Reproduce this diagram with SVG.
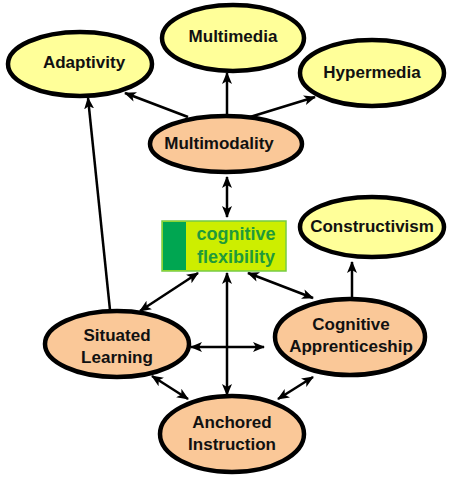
<svg xmlns="http://www.w3.org/2000/svg" width="455" height="480" viewBox="0 0 455 480">
<style>
.n{stroke:#000;stroke-width:4.5}
.y{fill:#ffff99}
.o{fill:#fac898}
.t{font-family:"Liberation Sans",Arial,sans-serif;font-weight:bold;font-size:17px;fill:#111;text-anchor:middle}
.g{font-family:"Liberation Sans",Arial,sans-serif;font-weight:bold;font-size:18px;fill:#1f9a3a;text-anchor:middle}
.c{stroke:#000;stroke-width:2.5;fill:none}
.e{marker-end:url(#a)}
.b{marker-start:url(#a);marker-end:url(#a)}
</style>
<defs>
<marker id="a" markerUnits="userSpaceOnUse" markerWidth="12" markerHeight="12" viewBox="0 0 12 10" refX="11" refY="5" orient="auto-start-reverse">
<path d="M0,0 L12,5 L0,10 L3,5 z" fill="#000"/>
</marker>
</defs>
<rect width="455" height="480" fill="#fff"/>
<g id="connectors">
<path class="c e" d="M188,117 L125,93"/>
<path class="c e" d="M227,117 L227,73"/>
<path class="c e" d="M250,117 L315,97"/>
<path class="c e" d="M110,310 L88,98"/>
<path class="c b" d="M227,177 L227,217"/>
<path class="c b" d="M198,273 L140,311"/>
<path class="c b" d="M227,273 L227,395"/>
<path class="c b" d="M248,273 L313,298"/>
<path class="c e" d="M352,299 L352,262"/>
<path class="c b" d="M191,347 L264,347"/>
<path class="c b" d="M152,376 L188,399"/>
<path class="c b" d="M313,377 L278,399"/>
</g>
<g id="adaptivity">
<ellipse class="n y" cx="80" cy="64" rx="72" ry="32"/>
<text class="t" x="84" y="68">Adaptivity</text>
</g>
<g id="multimedia">
<ellipse class="n y" cx="233" cy="38" rx="71" ry="33"/>
<text class="t" x="233" y="42">Multimedia</text>
</g>
<g id="hypermedia">
<ellipse class="n y" cx="372" cy="73" rx="72" ry="33"/>
<text class="t" x="372" y="78">Hypermedia</text>
</g>
<g id="multimodality">
<ellipse class="n o" cx="226" cy="144" rx="76" ry="28"/>
<text class="t" x="219" y="149">Multimodality</text>
</g>
<g id="cognitive-flexibility">
<rect x="162" y="221" width="124" height="50" fill="#cdee00" stroke="#77cc44" stroke-width="1.5"/>
<rect x="163" y="222" width="23" height="48" fill="#00a651"/>
<text class="g" x="236" y="240">cognitive</text>
<text class="g" x="236" y="263">flexibility</text>
</g>
<g id="constructivism">
<ellipse class="n y" cx="372" cy="227" rx="72" ry="30"/>
<text class="t" x="372" y="232">Constructivism</text>
</g>
<g id="situated-learning">
<ellipse class="n o" cx="117" cy="344" rx="72" ry="33"/>
<text class="t" x="117" y="341">Situated</text>
<text class="t" x="117" y="363">Learning</text>
</g>
<g id="cognitive-apprenticeship">
<ellipse class="n o" cx="350" cy="337" rx="75" ry="38"/>
<text class="t" x="351" y="330">Cognitive</text>
<text class="t" x="351" y="352">Apprenticeship</text>
</g>
<g id="anchored-instruction">
<ellipse class="n o" cx="232" cy="434" rx="72" ry="38"/>
<text class="t" x="232" y="428">Anchored</text>
<text class="t" x="232" y="450">Instruction</text>
</g>
</svg>
